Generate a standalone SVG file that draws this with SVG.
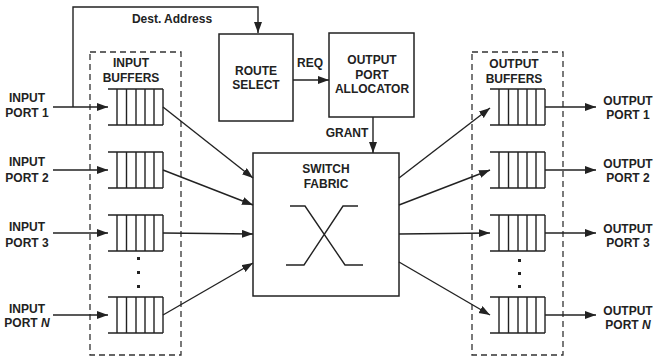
<svg xmlns="http://www.w3.org/2000/svg" xmlns:xlink="http://www.w3.org/1999/xlink" width="653" height="358" viewBox="0 0 653 358">
<style>
  .ln{fill:none;stroke:#222;stroke-width:1.4}
  .box{fill:#fff;stroke:#222;stroke-width:1.5}
  .dash{fill:none;stroke:#333;stroke-width:1.3;stroke-dasharray:6 4}
  .t{font-family:"Liberation Sans",Arial,sans-serif;font-weight:bold;font-size:12px;fill:#222;text-anchor:middle}
  .arr{fill:none;stroke:#222;stroke-width:1.4;marker-end:url(#ah)}
</style>
<defs>
  <marker id="ah" markerUnits="userSpaceOnUse" markerWidth="12" markerHeight="10" refX="11" refY="4" orient="auto">
    <path d="M0,0 L11,4 L0,8 Z" fill="#222"/>
  </marker>
  <g id="buf" class="ln">
    <path d="M0,0 H55 M0,36 H55"/>
    <path d="M9,0 V36 M18.5,0 V36 M28,0 V36 M37,0 V36 M46,0 V36 M55,0 V36"/>
  </g>
</defs>
<rect width="653" height="358" fill="#fff"/>

<g id="input-buffers">
  <rect class="dash" x="90" y="52" width="91" height="303"/>
  <text class="t" x="131" y="67">INPUT</text>
  <text class="t" x="131" y="82">BUFFERS</text>
  <use xlink:href="#buf" x="108" y="89"/>
  <use xlink:href="#buf" x="108" y="152"/>
  <use xlink:href="#buf" x="108" y="215"/>
  <use xlink:href="#buf" x="108" y="297"/>
  <rect x="137" y="257" width="3" height="3" fill="#222"/>
  <rect x="137" y="271" width="3" height="3" fill="#222"/>
  <rect x="137" y="285" width="3" height="3" fill="#222"/>
</g>

<g id="output-buffers">
  <rect class="dash" x="472" y="52" width="91" height="303"/>
  <text class="t" x="514" y="68">OUTPUT</text>
  <text class="t" x="514" y="83">BUFFERS</text>
  <use xlink:href="#buf" x="490" y="89"/>
  <use xlink:href="#buf" x="490" y="152"/>
  <use xlink:href="#buf" x="490" y="215"/>
  <use xlink:href="#buf" x="490" y="297"/>
  <rect x="518" y="259" width="3" height="3" fill="#222"/>
  <rect x="518" y="272" width="3" height="3" fill="#222"/>
  <rect x="518" y="285" width="3" height="3" fill="#222"/>
</g>

<g id="route-select">
  <rect class="box" x="219" y="34" width="74" height="87"/>
  <text class="t" x="256" y="75">ROUTE</text>
  <text class="t" x="256" y="89">SELECT</text>
</g>

<g id="output-port-allocator">
  <rect class="box" x="329" y="33" width="85" height="84"/>
  <text class="t" x="372" y="64">OUTPUT</text>
  <text class="t" x="372" y="79">PORT</text>
  <text class="t" x="372" y="93">ALLOCATOR</text>
</g>

<g id="switch-fabric">
  <rect class="box" x="253" y="153" width="146" height="143"/>
  <text class="t" x="326" y="173">SWITCH</text>
  <text class="t" x="326" y="188">FABRIC</text>
  <path class="ln" d="M290,206 H305 L345,265 H363 M358,206 H343 L304,265 H286"/>
</g>

<g id="input-labels">
  <text class="t" x="27" y="102">INPUT</text>
  <text class="t" x="27" y="117">PORT 1</text>
  <text class="t" x="27" y="166">INPUT</text>
  <text class="t" x="27" y="182">PORT 2</text>
  <text class="t" x="27" y="231">INPUT</text>
  <text class="t" x="27" y="247">PORT 3</text>
  <text class="t" x="27" y="313">INPUT</text>
  <text class="t" x="27" y="327">PORT <tspan font-style="italic">N</tspan></text>
</g>

<g id="output-labels">
  <text class="t" x="628" y="105">OUTPUT</text>
  <text class="t" x="628" y="119">PORT 1</text>
  <text class="t" x="628" y="168">OUTPUT</text>
  <text class="t" x="628" y="182">PORT 2</text>
  <text class="t" x="628" y="233">OUTPUT</text>
  <text class="t" x="628" y="247">PORT 3</text>
  <text class="t" x="628" y="315">OUTPUT</text>
  <text class="t" x="628" y="329">PORT <tspan font-style="italic">N</tspan></text>
</g>

<g id="connectors">
  <path class="arr" d="M53,107 H108"/>
  <path class="arr" d="M53,170 H108"/>
  <path class="arr" d="M53,233 H108"/>
  <path class="arr" d="M53,315 H108"/>
  <path class="arr" d="M73,107 V7 H258 V33"/>
  <text class="t" x="172" y="23">Dest. Address</text>
  <path class="arr" d="M293,80 H329"/>
  <text class="t" x="310" y="67">REQ</text>
  <path class="arr" d="M373,117 V153"/>
  <text class="t" x="347" y="137">GRANT</text>
  <path class="arr" d="M163,107 L253,178"/>
  <path class="arr" d="M163,170 L253,205"/>
  <path class="arr" d="M163,233 L253,234"/>
  <path class="arr" d="M163,315 L253,263"/>
  <path class="arr" d="M399,178 L490,108"/>
  <path class="arr" d="M399,205 L490,170"/>
  <path class="arr" d="M399,234 L490,233"/>
  <path class="arr" d="M399,262 L490,315"/>
  <path class="arr" d="M545,107 H596"/>
  <path class="arr" d="M545,170 H596"/>
  <path class="arr" d="M545,233 H596"/>
  <path class="arr" d="M545,315 H596"/>
</g>
</svg>
